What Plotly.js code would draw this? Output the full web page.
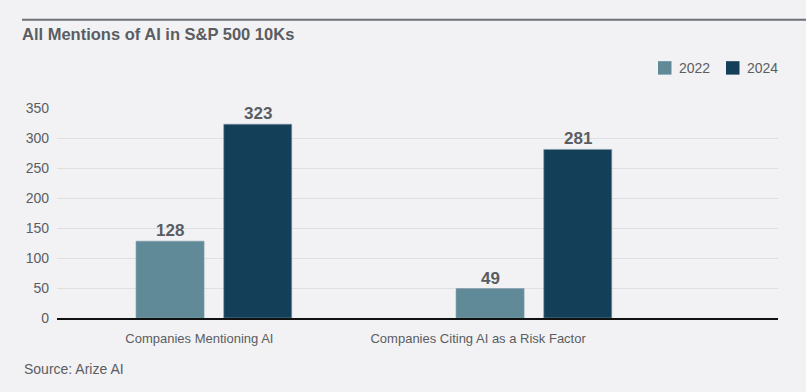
<!DOCTYPE html>
<html>
<head>
<meta charset="utf-8">
<script src="https://cdn.plot.ly/plotly-3.0.1.min.js"></script>
<style>
html,body{margin:0;padding:0;background:#f2f2f4;}
#chart{width:806px;height:392px;}
</style>
</head>
<body>
<div id="chart"></div>
<script>
var categories = ["Companies Mentioning AI", "Companies Citing AI as a Risk Factor"];
var seriesNames = ["2022", "2024"];
var values2022 = [128, 49];
var values2024 = [323, 281];
var colors = ["#618a99", "#143f58"];

var xIdx = categories.map(function(c, i){ return i; });
var textColor = "#5a5d62";
var font = "'Liberation Sans', Arial, sans-serif";

var barWidth = 0.2125;
var offsets = [-0.242, 0.032];
var seriesValues = [values2022, values2024];

var data = seriesNames.map(function(name, s) {
  return {
    type: "bar",
    name: name,
    x: xIdx,
    y: seriesValues[s],
    marker: {color: colors[s], line: {color: "#7f9aa8", width: 0.6}},
    width: barWidth,
    offset: offsets[s],
    hoverinfo: "skip",
    showlegend: false
  };
});

// value labels above bars
var annotations = [];
seriesNames.forEach(function(name, s) {
  seriesValues[s].forEach(function(v, i) {
    annotations.push({
      xref: "x", yref: "y",
      x: xIdx[i] + offsets[s] + barWidth / 2,
      y: v,
      xanchor: "center", yanchor: "bottom",
      yshift: -1,
      text: "<b>" + v + "</b>",
      showarrow: false,
      font: {family: font, size: 17, color: textColor}
    });
  });
});

// custom legend (top right)
var shapes = [{
  type: "line", xref: "paper", yref: "paper",
  x0: (22-57)/721, x1: (806-57)/721,
  y0: (318.3-19)/210.8, y1: (318.3-19)/210.8,
  line: {color: "#6e7176", width: 2}
}];
var legendSquareX = [658, 726];
seriesNames.forEach(function(name, s) {
  var px = legendSquareX[s];
  shapes.push({
    type: "rect", xref: "paper", yref: "paper",
    x0: (px-57)/721, x1: (px+13.5-57)/721,
    y0: (318.3-74)/210.8, y1: (318.3-60.5)/210.8,
    fillcolor: colors[s],
    line: {width: 0}
  });
  annotations.push({
    xref: "paper", yref: "paper",
    x: (px+18.5-57)/721, xanchor: "left",
    y: (318.3-67.5)/210.8, yanchor: "middle",
    text: name,
    showarrow: false,
    font: {family: font, size: 14, color: textColor}
  });
});

annotations.push({
  text: "Source: Arize AI",
  xref: "paper", yref: "paper",
  x: (22-57)/721, xanchor: "left",
  y: (318.3-369)/210.8, yanchor: "middle",
  showarrow: false,
  font: {family: font, size: 14, color: textColor}
});

var layout = {
  width: 806, height: 392,
  paper_bgcolor: "#f2f2f4",
  plot_bgcolor: "#f2f2f4",
  margin: {l: 57, r: 28, t: 107.5, b: 73.7, pad: 0},
  barmode: "overlay",
  font: {family: font, color: textColor},
  title: {
    text: "<b>All Mentions of AI in S&P 500 10Ks</b>",
    x: 22/806, xanchor: "left", xref: "container",
    y: 1 - 34/392, yanchor: "middle", yref: "container",
    font: {family: font, size: 16.5, color: textColor}
  },
  showlegend: false,
  xaxis: {
    type: "linear",
    range: [-0.489, 1.764],
    tickvals: [-0.044, 0.827],
    ticktext: categories,
    showgrid: false,
    zeroline: false,
    showline: true,
    linecolor: "#111111",
    linewidth: 1.5,
    ticks: "",
    ticklabelstandoff: 8,
    tickfont: {family: font, size: 13, color: textColor},
    fixedrange: true
  },
  yaxis: {
    range: [0, 350],
    tickvals: [0, 50, 100, 150, 200, 250, 300, 350],
    showgrid: true,
    gridcolor: "#dedfe2",
    gridwidth: 1,
    zeroline: false,
    showline: false,
    ticks: "",
    ticklabelstandoff: 7,
    tickfont: {family: font, size: 14, color: textColor},
    fixedrange: true
  },
  shapes: shapes,
  annotations: annotations
};

Plotly.newPlot("chart", data, layout, {displayModeBar: false, staticPlot: true});
</script>
</body>
</html>
